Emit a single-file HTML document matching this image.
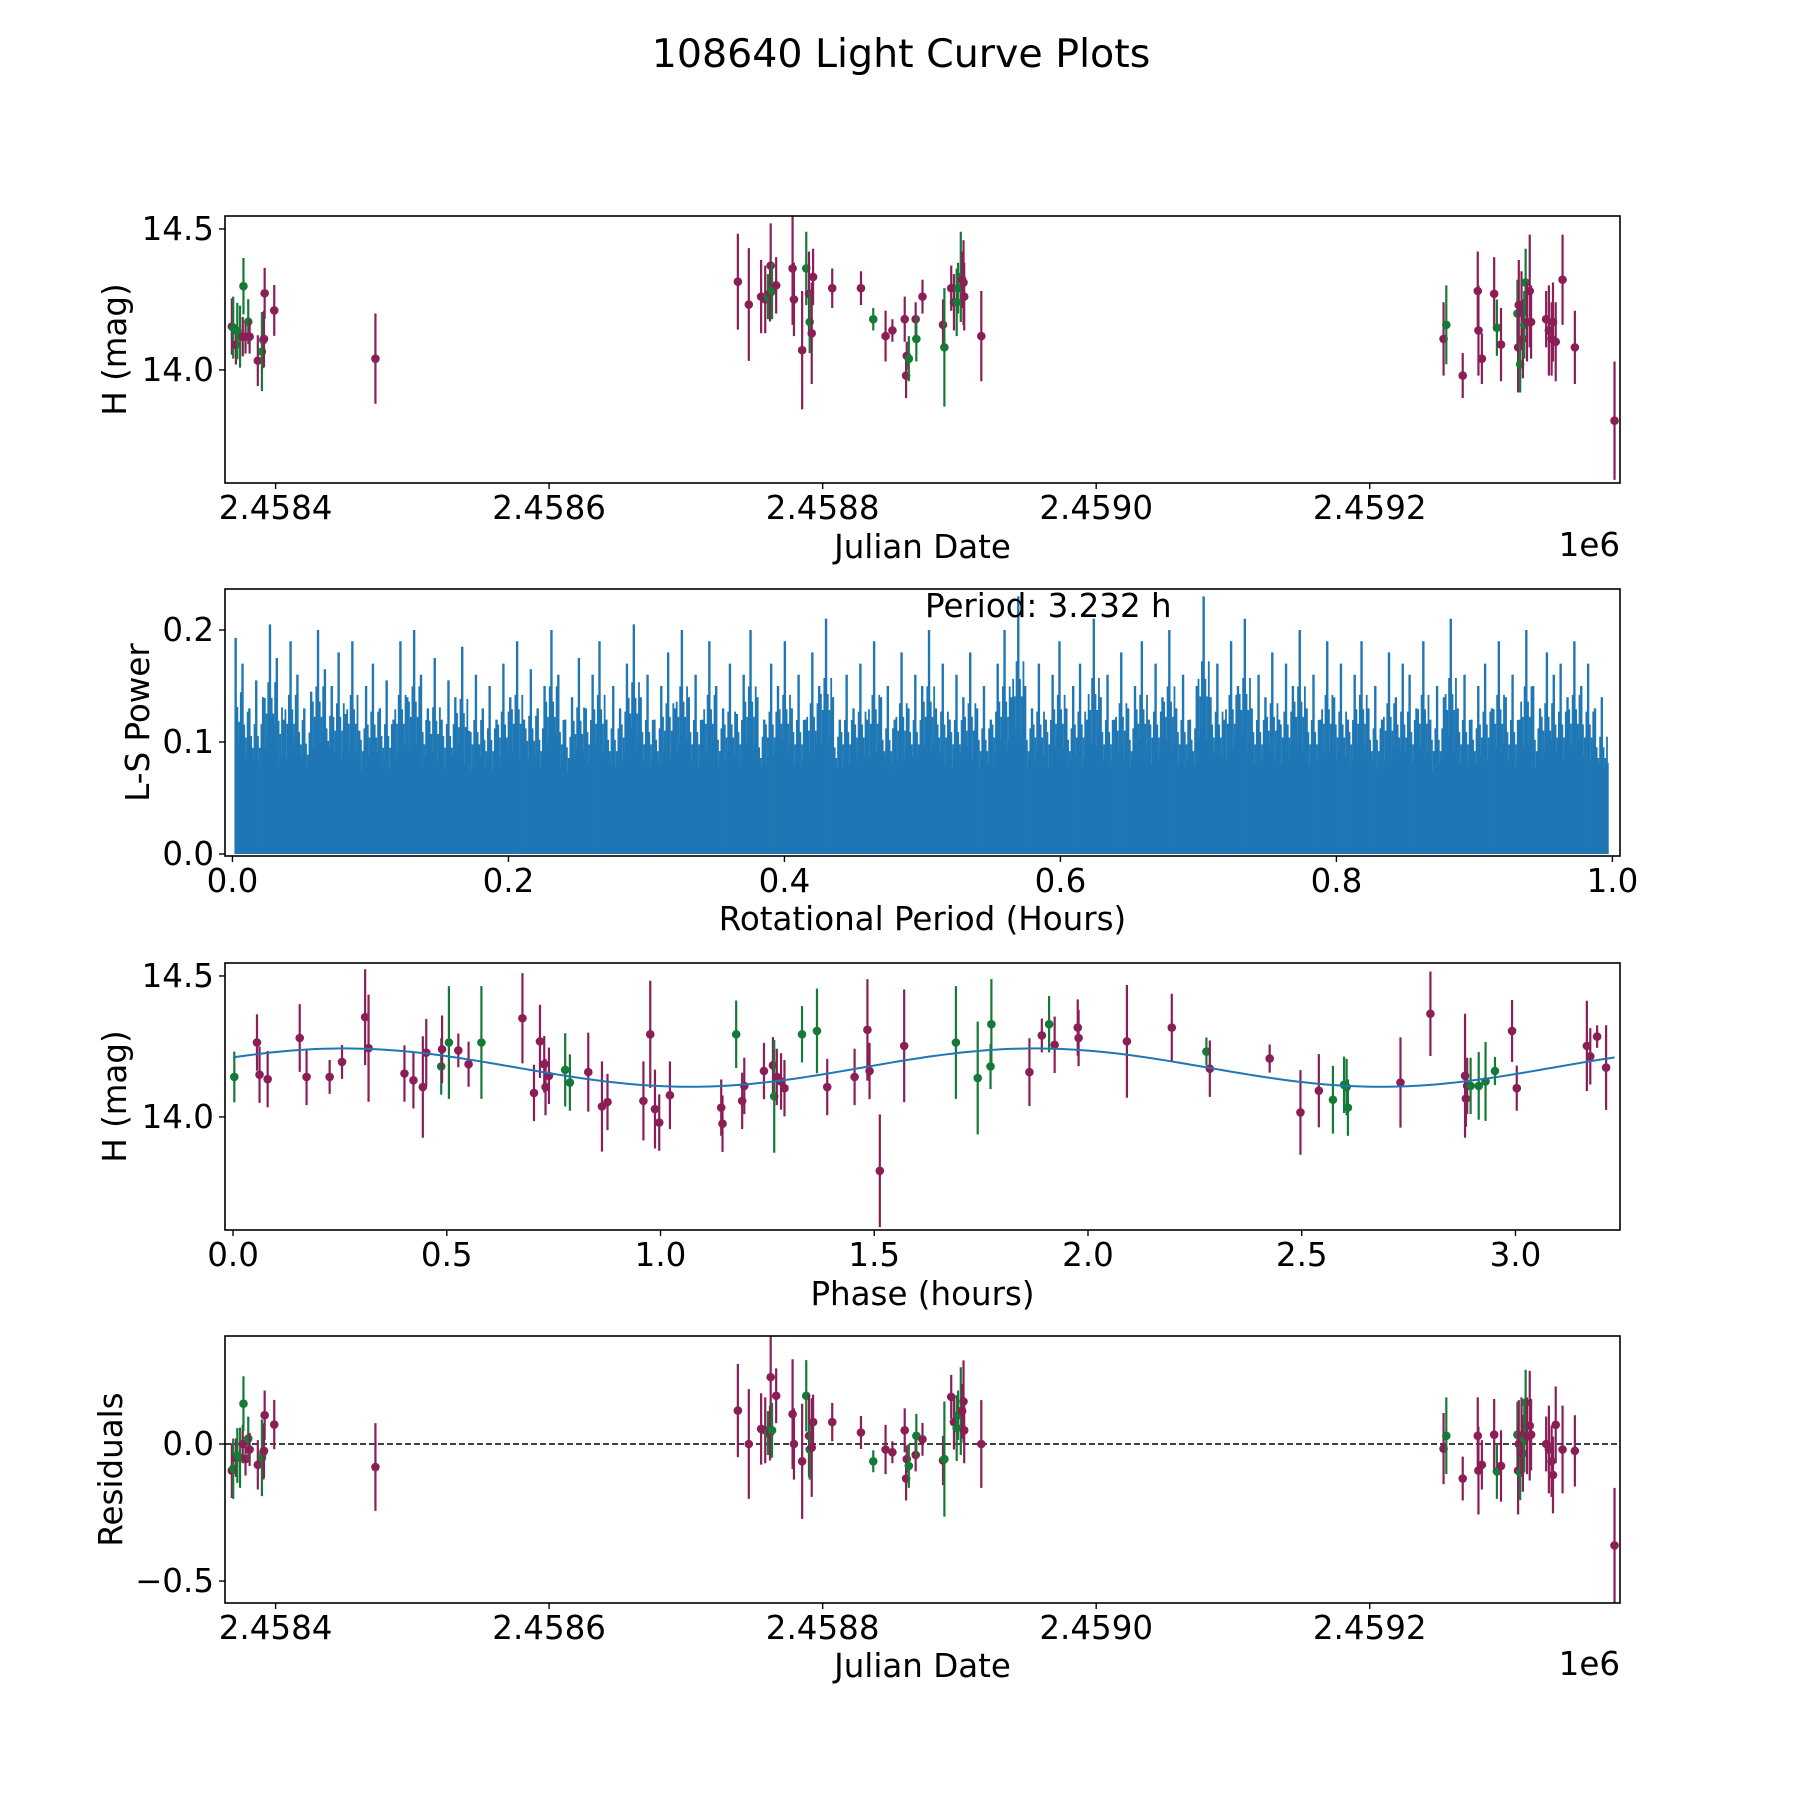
<!DOCTYPE html>
<html><head><meta charset="utf-8"><style>
html,body{margin:0;padding:0;background:#fff}
svg{display:block;font-family:"DejaVu Sans","Liberation Sans",sans-serif}
</style></head><body>
<svg id="fig" width="1800" height="1800" viewBox="0 0 1800 1800" xmlns="http://www.w3.org/2000/svg">
<text x="901" y="54" font-size="39.5" text-anchor="middle" dominant-baseline="central">108640 Light Curve Plots</text>
</svg>
<script>
// ---- light curve data (JD - 2458000) ----
const jd = [368,369,371,372,374,376,376.5,378,380,381,387,390,391,391.5,392,399,473,
738,746,755,758,760,761.5,762,763,766,778,779,785,788,790,790.5,792,793,807,828,837,846,851,860,861,861.5,863,868,868.5,873,888,889,894,896,898,899,901,902,903,903.5,916,
1254,1256,1268,1279,1279.5,1282,1291,1293,1296,1308,1308.5,1309,1310,1311,1312,1313,1314,1315,1317,1318,1329,1331,1333,1334,1336,1341,1350,1379];
const mag = [14.154,14.150,14.089,14.138,14.118,14.118,14.297,14.118,14.171,14.118,14.033,14.065,14.106,14.110,14.272,14.211,14.04,
14.313,14.232,14.26,14.25,14.26,14.272,14.37,14.28,14.30,14.36,14.25,14.07,14.36,14.27,14.17,14.13,14.33,14.29,14.29,14.18,14.12,14.14,14.18,13.98,14.05,14.04,14.18,14.11,14.26,14.16,14.08,14.29,14.24,14.24,14.29,14.33,14.32,14.31,14.26,14.12,
14.11,14.16,13.98,14.28,14.14,14.04,14.27,14.15,14.09,14.20,14.08,14.23,14.02,14.21,14.11,14.16,14.31,14.17,14.28,14.17,14.18,14.14,14.11,14.17,14.10,14.32,14.08,13.82];
const resid = [-0.097,-0.09,-0.05,-0.042,-0.05,0.0,0.147,-0.055,0.02,-0.02,-0.076,-0.05,-0.03,-0.025,0.105,0.071,-0.084,
0.122,0.0,0.055,0.05,0.04,0.04,0.244,0.05,0.176,0.109,0.0,-0.063,0.176,0.03,-0.02,-0.013,0.08,0.08,0.042,-0.063,-0.02,-0.03,0.05,-0.126,-0.055,-0.08,-0.04,0.03,0.017,-0.06,-0.055,0.172,0.08,0.058,0.105,0.12,0.12,0.155,0.05,0.0,
-0.017,0.03,-0.126,0.03,-0.097,-0.076,0.034,-0.1,-0.08,0.034,-0.097,0.0,-0.105,0.03,-0.034,0.017,0.151,0.03,0.067,0.034,0.0,-0.02,-0.063,-0.113,0.07,-0.02,-0.025,-0.37];
const err = [0.1,0.11,0.07,0.1,0.11,0.07,0.1,0.06,0.08,0.06,0.09,0.14,0.1,0.1,0.09,0.09,0.16,
0.17,0.2,0.13,0.12,0.08,0.1,0.15,0.1,0.1,0.2,0.13,0.21,0.13,0.15,0.11,0.18,0.1,0.07,0.06,0.04,0.09,0.04,0.08,0.08,0.05,0.08,0.06,0.08,0.06,0.09,0.21,0.08,0.1,0.12,0.09,0.16,0.1,0.15,0.12,0.16,
0.13,0.14,0.08,0.14,0.16,0.09,0.13,0.1,0.13,0.12,0.16,0.16,0.1,0.14,0.14,0.12,0.12,0.14,0.2,0.13,0.1,0.16,0.13,0.14,0.14,0.16,0.13,0.21];
const band = "pgpggpgpgppggpppp"+"ppppgppgppppgpgppppgpppppgpgppgppgggp"+"ppppgpppppgpgppgppggppppppp";

// ---- phased data ----
const phase = [0.003,0.056,0.062,0.081,0.156,0.172,0.226,0.255,0.309,0.317,0.401,0.422,0.444,0.452,0.487,0.489,0.505,0.527,0.551,0.581,0.677,0.704,0.718,0.728,0.731,0.739,0.777,0.788,0.831,0.863,0.876,0.960,0.976,0.987,0.997,1.022,1.142,1.145,1.177,1.191,1.196,1.242,1.263,1.266,1.272,1.282,1.290,1.331,1.366,1.390,1.454,1.484,1.489,1.513,1.570,1.691,1.742,1.772,1.774,1.863,1.892,1.909,1.922,1.976,1.978,2.091,2.196,2.277,2.285,2.425,2.497,2.540,2.573,2.599,2.605,2.608,2.731,2.801,2.882,2.884,2.887,2.895,2.914,2.930,2.952,2.992,3.003,3.167,3.175,3.191,3.212];
const pmag = [14.142,14.264,14.150,14.134,14.280,14.142,14.142,14.195,14.354,14.244,14.154,14.130,14.106,14.228,14.179,14.240,14.264,14.236,14.187,14.264,14.350,14.085,14.268,14.187,14.106,14.146,14.167,14.122,14.159,14.037,14.053,14.057,14.293,14.028,13.980,14.077,14.033,13.976,14.293,14.057,14.110,14.163,14.183,14.073,14.142,14.126,14.102,14.293,14.305,14.106,14.142,14.309,14.163,13.809,14.252,14.264,14.138,14.179,14.329,14.159,14.289,14.329,14.256,14.317,14.280,14.268,14.317,14.232,14.171,14.207,14.016,14.093,14.061,14.114,14.106,14.033,14.122,14.366,14.146,14.065,14.110,14.110,14.110,14.126,14.163,14.305,14.102,14.252,14.215,14.285,14.175];
const pband = "gpppppppppppppgpgppgppppppggppppppppppgppppgpppggppppppggggppgpppppgppppggggpppppggggpppppppp".slice(0,91);
const perr = [0.09,0.1,0.1,0.1,0.12,0.1,0.06,0.06,0.17,0.19,0.1,0.1,0.18,0.12,0.1,0.12,0.2,0.06,0.08,0.2,0.16,0.1,0.13,0.1,0.1,0.1,0.13,0.1,0.14,0.16,0.1,0.14,0.19,0.14,0.1,0.12,0.1,0.1,0.12,0.1,0.1,0.1,0.1,0.2,0.1,0.1,0.1,0.1,0.15,0.1,0.1,0.18,0.1,0.2,0.2,0.2,0.2,0.08,0.16,0.12,0.06,0.1,0.1,0.1,0.1,0.2,0.12,0.05,0.1,0.05,0.15,0.13,0.12,0.1,0.1,0.1,0.16,0.15,0.22,0.1,0.1,0.1,0.12,0.14,0.05,0.11,0.08,0.16,0.1,0.04,0.15];
const modelMean = 14.175, modelAmp = 0.068, modelPeriod = 1.616, modelPeak = 0.26, rotPeriod = 3.232;

// ---- periodogram ----
const peaks = [
.193,.17,.13,.155,.14,.205,.175,.12,.19,.16,.13,.145,.2,.165,.15,.18,.125,.19,.11,.15,
.17,.13,.155,.12,.19,.14,.2,.16,.13,.175,.12,.155,.14,.185,.11,.16,.13,.15,.12,.17,
.14,.19,.12,.165,.13,.15,.2,.16,.12,.14,.175,.13,.16,.19,.12,.15,.13,.17,.205,.14,
.16,.12,.15,.18,.13,.2,.14,.16,.12,.19,.15,.13,.17,.125,.16,.2,.14,.12,.17,.15,
.19,.13,.16,.12,.18,.15,.21,.14,.12,.16,.13,.17,.12,.19,.14,.15,.12,.18,.13,.16,
.15,.2,.13,.17,.12,.16,.14,.18,.13,.15,.12,.17,.2,.14,.23,.15,.13,.17,.12,.16,
.19,.13,.15,.17,.12,.21,.14,.16,.12,.18,.13,.15,.19,.12,.17,.14,.2,.13,.16,.12,
.15,.23,.14,.17,.12,.19,.15,.21,.13,.16,.14,.18,.12,.17,.15,.2,.13,.16,.12,.19,
.14,.17,.12,.16,.19,.13,.15,.12,.18,.14,.17,.16,.13,.19,.12,.15,.14,.21,.13,.16,
.12,.15,.17,.13,.19,.14,.16,.12,.2,.15,.13,.18,.16,.17,.14,.19,.15,.17,.13,.14];
const baseLevel = [.06,.075,.07,.075,.065,.07,.06,.075,.07,.065,.07];
const subShape = [1.0,0.62,0.8,0.55,0.72,0.6,0.88,0.58];
const periodLabel = "Period: 3.232 h";

const NS="http://www.w3.org/2000/svg";
const svg=document.getElementById('fig');
const FS=32.5, PURPLE="#8b1e57", GREEN="#157a36", BLUE="#1f77b4";
function el(tag,attrs,parent){const e=document.createElementNS(NS,tag);for(const k in attrs)e.setAttribute(k,attrs[k]);(parent||svg).appendChild(e);return e;}
function txt(s,attrs,parent){const t=el('text',Object.assign({'font-size':FS,'dominant-baseline':'central'},attrs),parent);t.textContent=s;return t;}
function makeAxes(name,L,T,R,B,x0,x1,y0,y1){
  const g=el('g',{});
  
  
  return {g,L,T,R,B,sx:v=>L+(v-x0)/(x1-x0)*(R-L),sy:v=>B-(v-y0)/(y1-y0)*(B-T)};
}
function frame(a){const r=el('rect',{x:a.L,y:a.T,width:a.R-a.L,height:a.B-a.T,fill:'none',stroke:'#000','stroke-width':1.6},a.g);
  
  }
function xticks(a,vals,labels,name){vals.forEach((v,i)=>{const x=a.sx(v);el('line',{x1:x,x2:x,y1:a.B,y2:a.B+6,stroke:'#000','stroke-width':1.4},a.g);
  const t=txt(labels[i],{x:x,y:a.B+25,'text-anchor':'middle'},a.g);
  
  });}
function yticks(a,vals,labels,name){vals.forEach((v,i)=>{const y=a.sy(v);el('line',{x1:a.L-6,x2:a.L,y1:y,y2:y,stroke:'#000','stroke-width':1.4},a.g);
  const t=txt(labels[i],{x:a.L-11,y:y,'text-anchor':'end'},a.g);
  
  });}
function ylabel(a,s,x,name){const cy=(a.T+a.B)/2;const t=txt(s,{x:x,y:cy,'text-anchor':'middle',transform:`rotate(-90 ${x} ${cy})`},a.g);
  
  }
function xlabel(a,s,y,name){const t=txt(s,{x:(a.L+a.R)/2,y:y,'text-anchor':'middle'},a.g);
  
  }
function clip(a,id){const cp=el('clipPath',{id:id},a.g);el('rect',{x:a.L,y:a.T,width:a.R-a.L,height:a.B-a.T},cp);return el('g',{'clip-path':`url(#${id})`},a.g);}
function errpoint(a,grp,x,y,e,c,name){const col=c==='g'?GREEN:PURPLE;
  const g=el('g',{},grp);
  
  
  el('line',{x1:a.sx(x),x2:a.sx(x),y1:a.sy(y-e),y2:a.sy(y+e),stroke:col,'stroke-width':2.2},g);
  el('circle',{cx:a.sx(x),cy:a.sy(y),r:4.3,fill:col},g);}

const jdTicks=[400,600,800,1000,1200], jdLabels=["2.4584","2.4586","2.4588","2.4590","2.4592"];
// Panel 1
const a1=makeAxes('light-curve-panel',225,216,1620,483,363,1383,13.599,14.546);
const c1=clip(a1,'c1');
jd.forEach((x,i)=>errpoint(a1,c1,x,mag[i],err[i],band[i],'observation-point'));
frame(a1);xticks(a1,jdTicks,jdLabels,'jd-x');yticks(a1,[14.0,14.5],["14.0","14.5"],'mag-y');
ylabel(a1,"H (mag)",115,'y-axis-title-mag');xlabel(a1,"Julian Date",547,'x-axis-title-jd');
let o=txt("1e6",{x:1620,y:545,'text-anchor':'end'},a1.g);



// Panel 2 periodogram
const a2=makeAxes('periodogram-panel',225,589,1620,856,-0.0054,1.0055,-0.0018,0.2366);
const c2=clip(a2,'c2');
let pts=[];baseLevel.forEach((v,i)=>pts.push(a2.sx(i/(baseLevel.length-1)*0.995+0.002)+','+a2.sy(v)));
let poly=el('polygon',{points:a2.sx(0.002)+','+a2.sy(0)+' '+pts.join(' ')+' '+a2.sx(0.997)+','+a2.sy(0),fill:BLUE},c2);


const step=0.995/peaks.length;
peaks.forEach((v,i)=>{const p0=0.002+i*step;
  const nxt=peaks[i+1]||v;
  subShape.forEach((f,k)=>{
    const p=p0+(k+0.5)/subShape.length*step;
    const h=k===0?v:(k%2? (v+nxt)/2*f : Math.max(v,nxt)*f*0.85);
    const l=el('line',{x1:a2.sx(p),x2:a2.sx(p),y1:a2.sy(0),y2:a2.sy(h),stroke:BLUE,'stroke-width':k===0?2.4:1.8},c2);
    
    
  });});
frame(a2);xticks(a2,[0,0.2,0.4,0.6,0.8,1.0],["0.0","0.2","0.4","0.6","0.8","1.0"],'period-x');
yticks(a2,[0,0.1,0.2],["0.0","0.1","0.2"],'power-y');
ylabel(a2,"L-S Power",138,'y-axis-title-power');xlabel(a2,"Rotational Period (Hours)",919,'x-axis-title-period');
o=txt(periodLabel,{x:925,y:606,'text-anchor':'start'},a2.g);



// Panel 3 phased
const a3=makeAxes('phased-curve-panel',225,963,1620,1230,-0.0188,3.2445,13.599,14.546);
const c3=clip(a3,'c3');
phase.forEach((x,i)=>errpoint(a3,c3,x,pmag[i],perr[i],pband[i],'phased-point'));
let d='';for(let k=0;k<=200;k++){const x=k/200*rotPeriod;const y=modelMean+modelAmp*Math.cos(2*Math.PI*(x-modelPeak)/modelPeriod);d+=(k?'L':'M')+a3.sx(x)+','+a3.sy(y);}
o=el('path',{d:d,fill:'none',stroke:BLUE,'stroke-width':2},c3);


frame(a3);xticks(a3,[0,0.5,1,1.5,2,2.5,3],["0.0","0.5","1.0","1.5","2.0","2.5","3.0"],'phase-x');
yticks(a3,[14.0,14.5],["14.0","14.5"],'phase-mag-y');
ylabel(a3,"H (mag)",115,'y-axis-title-phase-mag');xlabel(a3,"Phase (hours)",1294,'x-axis-title-phase');

// Panel 4 residuals
const a4=makeAxes('residuals-panel',225,1336,1620,1603,363,1383,-0.58,0.394);
const c4=clip(a4,'c4');
o=el('line',{x1:a4.L,x2:a4.R,y1:a4.sy(0),y2:a4.sy(0),stroke:'#000','stroke-width':1.6,'stroke-dasharray':'6,3'},c4);


jd.forEach((x,i)=>errpoint(a4,c4,x,resid[i],err[i],band[i],'residual-point'));
frame(a4);xticks(a4,jdTicks,jdLabels,'resid-jd-x');yticks(a4,[-0.5,0],["\u22120.5","0.0"],'resid-y');
ylabel(a4,"Residuals",111,'y-axis-title-residuals');xlabel(a4,"Julian Date",1666,'x-axis-title-resid-jd');
o=txt("1e6",{x:1620,y:1664,'text-anchor':'end'},a4.g);


</script>
</body></html>
